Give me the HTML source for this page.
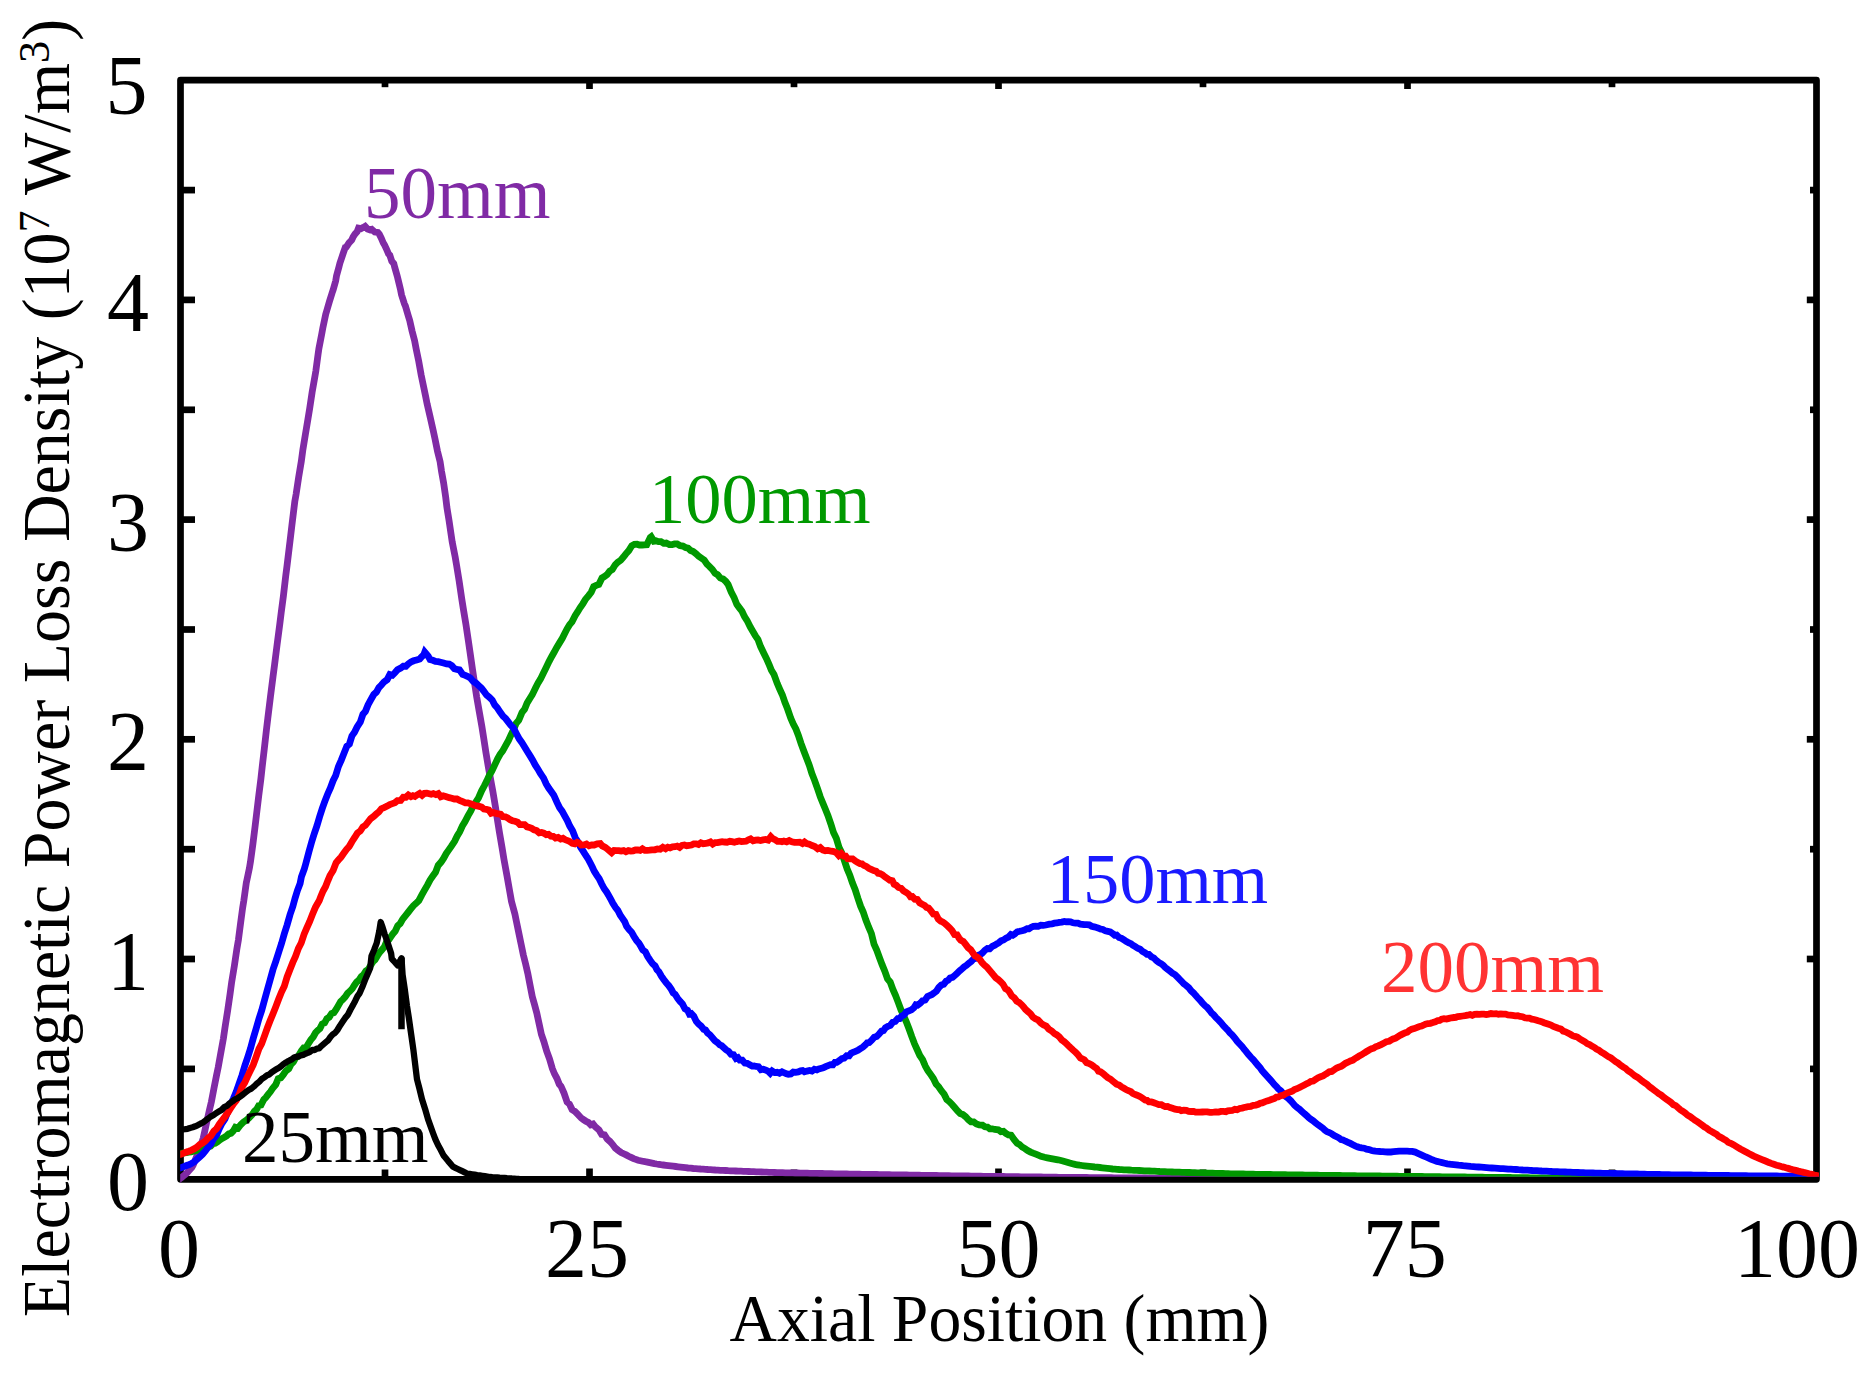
<!DOCTYPE html>
<html lang="en"><head><meta charset="utf-8"><title>Electromagnetic Power Loss Density vs Axial Position</title>
<style>
html,body{margin:0;padding:0;background:#fff;}
body{width:1875px;height:1373px;overflow:hidden;}
svg{display:block;}
text{font-family:"Liberation Serif",serif;}
</style></head><body>
<svg width="1875" height="1373" viewBox="0 0 1875 1373">
<defs><clipPath id="plotclip"><path d="M180.2,60 H1819 V1176.7 H198 V1183 H180.2 Z"/></clipPath></defs>
<rect width="1875" height="1373" fill="#fff"/>

<g stroke="#000" stroke-width="6.7" fill="none" stroke-linecap="butt">
<rect x="180.5" y="80.2" width="1636.0" height="1099.1" stroke-linejoin="round"/>
<line x1="180.5" y1="1068.9" x2="195" y2="1068.9"/>
<line x1="1816.5" y1="1068.9" x2="1810" y2="1068.9"/>
<line x1="180.5" y1="959.0" x2="195" y2="959.0"/>
<line x1="1816.5" y1="959.0" x2="1806.8" y2="959.0"/>
<line x1="180.5" y1="849.2" x2="195" y2="849.2"/>
<line x1="1816.5" y1="849.2" x2="1810" y2="849.2"/>
<line x1="180.5" y1="739.3" x2="195" y2="739.3"/>
<line x1="1816.5" y1="739.3" x2="1806.8" y2="739.3"/>
<line x1="180.5" y1="629.5" x2="195" y2="629.5"/>
<line x1="1816.5" y1="629.5" x2="1810" y2="629.5"/>
<line x1="180.5" y1="519.6" x2="195" y2="519.6"/>
<line x1="1816.5" y1="519.6" x2="1806.8" y2="519.6"/>
<line x1="180.5" y1="409.8" x2="195" y2="409.8"/>
<line x1="1816.5" y1="409.8" x2="1810" y2="409.8"/>
<line x1="180.5" y1="299.9" x2="195" y2="299.9"/>
<line x1="1816.5" y1="299.9" x2="1806.8" y2="299.9"/>
<line x1="180.5" y1="190.1" x2="195" y2="190.1"/>
<line x1="1816.5" y1="190.1" x2="1810" y2="190.1"/>
<line x1="385.0" y1="1179.3" x2="385.0" y2="1169.5"/>
<line x1="385.0" y1="80.2" x2="385.0" y2="87.2"/>
<line x1="589.5" y1="1179.3" x2="589.5" y2="1168.5"/>
<line x1="589.5" y1="80.2" x2="589.5" y2="89"/>
<line x1="794.0" y1="1179.3" x2="794.0" y2="1169.5"/>
<line x1="794.0" y1="80.2" x2="794.0" y2="87.2"/>
<line x1="998.5" y1="1179.3" x2="998.5" y2="1168.5"/>
<line x1="998.5" y1="80.2" x2="998.5" y2="89"/>
<line x1="1203.0" y1="1179.3" x2="1203.0" y2="1169.5"/>
<line x1="1203.0" y1="80.2" x2="1203.0" y2="87.2"/>
<line x1="1407.5" y1="1179.3" x2="1407.5" y2="1168.5"/>
<line x1="1407.5" y1="80.2" x2="1407.5" y2="89"/>
<line x1="1612.0" y1="1179.3" x2="1612.0" y2="1169.5"/>
<line x1="1612.0" y1="80.2" x2="1612.0" y2="87.2"/>
</g>
<g fill="none" stroke-width="6.8" stroke-linejoin="miter" stroke-miterlimit="2" stroke-linecap="butt" clip-path="url(#plotclip)">
<polyline stroke="#802aa5" points="176.5,1181.3 177.0,1180.9 180.0,1178.6 181.2,1177.7 183.2,1176.1 185.3,1174.5 186.8,1173.1 189.3,1170.3 191.8,1167.6 193.2,1165.1 195.3,1159.8 197.4,1154.6 198.7,1150.9 200.9,1145.0 203.2,1138.3 204.7,1131.6 207.2,1119.9 209.8,1108.5 211.4,1101.7 214.0,1088.1 216.6,1075.0 218.2,1067.4 220.8,1052.8 223.4,1038.5 225.0,1027.4 227.6,1011.0 230.1,993.8 231.7,981.9 234.3,966.2 236.9,948.8 238.4,940.0 240.6,923.0 242.7,907.4 243.8,900.8 246.3,882.9 247.1,879.1 249.4,868.2 250.5,861.6 252.8,844.7 255.0,827.1 256.4,815.4 258.7,796.1 260.9,778.7 262.2,766.8 264.3,748.9 266.4,730.1 267.8,718.4 270.4,697.1 273.0,676.8 274.6,664.5 277.2,643.8 279.7,624.8 281.2,612.7 283.4,596.0 285.7,576.2 287.0,566.0 290.7,535.3 291.8,526.1 294.8,501.5 296.1,494.3 298.7,477.0 301.3,461.4 302.9,449.6 305.5,433.8 308.0,418.7 309.6,409.0 312.1,392.4 314.7,377.7 315.8,371.2 318.1,354.1 318.9,348.5 321.8,333.7 322.8,328.1 325.7,314.3 327.0,309.9 329.5,301.3 332.0,293.2 333.2,289.7 335.7,280.8 336.5,275.9 338.9,267.1 339.9,263.1 343.6,252.2 344.4,249.9 345.3,247.4 346.3,247.0 349.0,242.8 351.7,240.0 353.1,237.0 355.1,233.9 357.1,231.7 358.5,228.1 361.0,228.6 363.5,227.3 365.1,226.3 367.6,229.1 370.0,229.9 371.7,229.4 374.8,232.0 377.8,232.4 379.3,234.2 381.3,238.2 383.3,243.0 384.5,244.8 386.5,249.2 388.6,254.0 389.8,255.1 391.8,261.2 393.8,263.6 394.8,267.5 397.3,276.3 398.1,279.6 400.6,290.0 401.5,294.7 404.4,303.8 405.4,306.0 408.4,316.2 409.7,320.4 412.1,331.1 414.6,340.7 416.2,349.1 418.7,361.1 421.2,375.2 422.5,381.4 425.6,396.3 427.1,403.8 430.1,416.7 433.2,430.4 435.0,438.9 437.5,451.2 440.1,461.7 441.5,471.1 443.6,482.8 445.7,497.3 446.9,507.4 449.0,520.3 451.1,534.5 452.2,541.9 455.2,557.2 456.5,564.8 459.1,580.7 461.7,598.4 463.3,608.6 465.9,624.2 468.4,640.9 470.0,651.9 472.5,669.5 475.1,686.5 476.7,697.0 479.3,711.8 481.9,726.6 483.5,736.7 486.0,753.1 488.6,768.4 490.2,777.2 492.8,791.1 495.3,806.0 496.9,816.6 499.5,832.8 502.1,847.8 503.9,859.0 506.9,875.4 510.0,893.0 511.5,901.4 514.9,914.1 516.5,921.9 518.8,933.0 521.0,943.6 523.3,954.8 525.5,963.5 527.8,973.4 530.0,984.8 532.3,996.6 534.5,1004.5 536.8,1013.1 539.1,1023.8 541.4,1034.4 543.8,1041.3 546.7,1051.2 549.5,1058.8 552.4,1068.7 554.5,1073.9 556.9,1078.3 559.2,1084.1 561.0,1086.2 564.0,1093.1 567.1,1102.0 569.4,1104.0 572.1,1109.6 574.9,1111.4 577.6,1114.2 581.2,1118.0 583.5,1119.6 585.9,1121.2 588.3,1122.4 590.7,1124.8 593.1,1124.0 595.4,1126.8 599.0,1129.9 601.7,1134.4 604.5,1134.9 607.2,1139.1 609.8,1141.3 612.5,1144.3 615.3,1148.0 618.0,1150.2 621.2,1152.5 623.7,1153.7 626.2,1154.9 628.6,1156.2 631.1,1157.4 633.6,1158.6 635.8,1159.4 638.1,1160.2 640.4,1160.7 642.7,1161.2 645.1,1161.7 647.4,1162.1 649.8,1162.6 652.1,1163.1 654.4,1163.6 656.6,1164.0 658.7,1164.3 660.9,1164.7 663.4,1165.0 665.8,1165.3 668.3,1165.6 670.7,1165.9 673.2,1166.2 675.7,1166.5 678.1,1166.8 680.6,1167.1 683.0,1167.4 685.5,1167.7 688.1,1168.0 690.7,1168.2 693.3,1168.5 695.7,1168.6 698.2,1168.8 700.6,1169.0 703.1,1169.1 705.5,1169.3 708.0,1169.5 710.5,1169.6 712.9,1169.8 715.4,1170.0 717.8,1170.1 720.4,1170.3 723.0,1170.4 725.6,1170.5 728.2,1170.7 730.7,1170.8 733.3,1170.9 735.8,1171.0 738.4,1171.1 741.0,1171.2 743.5,1171.3 746.1,1171.4 748.7,1171.5 751.2,1171.6 753.8,1171.7 756.3,1171.8 758.9,1171.9 761.5,1172.0 764.0,1172.1 766.6,1172.2 769.1,1172.3 771.8,1172.4 774.5,1172.5 777.2,1172.6 779.9,1172.6 782.6,1172.7 785.3,1172.8 787.8,1172.8 790.2,1172.9 792.7,1172.9 795.1,1173.0 797.6,1173.0 800.1,1173.1 802.5,1173.1 805.0,1173.2 807.4,1173.2 809.9,1173.3 812.4,1173.3 814.8,1173.4 817.3,1173.4 819.7,1173.5 822.2,1173.5 824.7,1173.6 827.1,1173.6 829.6,1173.7 832.0,1173.7 834.5,1173.8 837.0,1173.8 839.4,1173.9 841.9,1173.9 844.3,1174.0 846.8,1174.0 849.3,1174.1 851.8,1174.1 854.3,1174.1 856.9,1174.2 859.4,1174.2 861.9,1174.3 864.4,1174.3 866.9,1174.4 869.4,1174.4 871.9,1174.5 874.4,1174.5 876.9,1174.5 879.4,1174.6 881.8,1174.6 884.3,1174.7 886.8,1174.7 889.3,1174.7 891.8,1174.8 894.3,1174.8 896.7,1174.9 899.2,1174.9 901.7,1175.0 904.2,1175.0 906.7,1175.0 909.2,1175.1 911.6,1175.1 914.1,1175.2 916.6,1175.2 919.1,1175.2 921.6,1175.3 924.1,1175.3 926.5,1175.4 929.0,1175.4 931.5,1175.5 934.0,1175.5 936.5,1175.5 939.0,1175.6 941.4,1175.6 943.9,1175.7 946.4,1175.7 948.9,1175.7 951.4,1175.8 953.8,1175.8 956.2,1175.9 958.7,1175.9 961.1,1175.9 963.6,1176.0 966.0,1176.0 968.5,1176.0 970.9,1176.1 973.3,1176.1 975.8,1176.2 978.3,1176.2 980.8,1176.2 983.3,1176.3 985.8,1176.3 988.3,1176.3 990.8,1176.4 993.3,1176.4 995.8,1176.4 998.4,1176.5 1000.9,1176.5 1003.4,1176.5 1005.9,1176.6 1008.4,1176.6 1010.9,1176.6 1013.4,1176.7 1015.9,1176.7 1018.4,1176.7 1020.9,1176.8 1023.4,1176.8 1025.9,1176.8 1028.5,1176.9 1031.0,1176.9 1033.5,1176.9 1036.0,1177.0 1038.5,1177.0 1041.0,1177.0 1043.5,1177.1 1046.0,1177.1 1048.5,1177.1 1051.1,1177.2 1053.7,1177.2 1056.2,1177.2 1058.8,1177.3 1061.4,1177.3 1063.9,1177.3 1066.5,1177.3 1069.1,1177.4 1071.7,1177.4 1074.2,1177.4 1076.8,1177.4 1079.3,1177.5 1081.7,1177.5 1084.2,1177.5 1086.7,1177.5 1089.2,1177.6 1091.6,1177.6 1094.1,1177.6 1096.6,1177.6 1099.1,1177.6 1101.5,1177.7 1104.0,1177.7 1106.5,1177.7 1109.0,1177.7 1111.4,1177.7 1113.9,1177.8 1116.4,1177.8 1118.9,1177.8 1121.3,1177.8 1123.8,1177.8 1126.3,1177.9 1128.8,1177.9 1131.2,1177.9 1133.7,1177.9 1136.2,1178.0 1138.7,1178.0 1141.1,1178.0 1143.6,1178.0 1146.1,1178.0 1148.6,1178.1 1151.0,1178.1 1153.5,1178.1 1156.0,1178.1 1158.5,1178.1 1160.9,1178.2 1163.4,1178.2 1165.9,1178.2 1168.4,1178.2 1170.8,1178.2 1173.3,1178.3 1175.8,1178.3 1178.3,1178.3 1180.7,1178.3 1183.2,1178.4 1185.7,1178.4 1188.2,1178.4 1190.8,1178.4 1193.3,1178.4 1195.8,1178.4 1198.3,1178.4 1200.9,1178.4 1203.4,1178.4 1205.9,1178.4 1208.4,1178.4 1210.9,1178.4 1213.5,1178.4 1216.0,1178.4 1218.5,1178.4 1221.0,1178.5 1223.5,1178.5 1226.1,1178.5 1228.6,1178.5 1231.1,1178.5 1233.6,1178.5 1236.2,1178.5 1238.7,1178.5 1241.2,1178.5 1243.7,1178.5 1246.2,1178.5 1248.8,1178.5 1251.3,1178.5 1253.8,1178.5 1256.3,1178.5 1258.8,1178.6 1261.4,1178.6 1263.9,1178.6 1266.4,1178.6 1268.9,1178.6 1271.5,1178.6 1274.0,1178.6 1276.5,1178.6 1279.0,1178.6 1281.5,1178.6 1284.0,1178.6 1286.5,1178.6 1289.0,1178.6 1291.5,1178.6 1294.0,1178.6 1296.5,1178.6 1299.0,1178.6 1301.5,1178.6 1304.0,1178.6 1306.6,1178.6 1309.1,1178.6 1311.6,1178.6 1314.1,1178.6 1316.6,1178.7 1319.1,1178.7 1321.6,1178.7 1324.1,1178.7 1326.6,1178.7 1329.1,1178.7 1331.6,1178.7 1334.1,1178.7 1336.6,1178.7 1339.1,1178.7 1341.6,1178.7 1344.1,1178.7 1346.6,1178.7 1349.1,1178.7 1351.7,1178.7 1354.2,1178.7 1356.7,1178.7 1359.2,1178.7 1361.7,1178.7 1364.2,1178.7 1366.7,1178.7 1369.2,1178.7 1371.7,1178.7 1374.2,1178.7 1376.7,1178.7 1379.2,1178.7 1381.7,1178.7 1384.2,1178.7 1386.7,1178.7 1389.2,1178.7 1391.7,1178.7 1394.2,1178.8 1396.8,1178.8 1399.3,1178.8 1401.8,1178.8 1404.3,1178.8 1406.8,1178.8 1409.3,1178.8 1411.8,1178.8 1414.3,1178.8 1416.8,1178.8 1419.3,1178.8 1421.8,1178.8 1424.3,1178.8 1426.8,1178.8 1429.3,1178.8 1431.8,1178.8 1434.3,1178.8 1436.8,1178.8 1439.3,1178.8 1441.9,1178.8 1444.4,1178.8 1446.9,1178.8 1449.4,1178.8 1451.9,1178.8 1454.4,1178.8 1456.9,1178.8 1459.4,1178.8 1461.9,1178.8 1464.4,1178.8 1466.9,1178.8 1469.4,1178.8 1471.9,1178.9 1474.4,1178.9 1476.9,1178.9 1479.4,1178.9 1481.9,1178.9 1484.4,1178.9 1487.0,1178.9 1489.5,1178.9 1492.0,1178.9 1494.5,1178.9 1497.0,1178.9 1499.5,1178.9 1502.0,1178.9 1504.5,1178.9 1507.0,1178.9 1509.5,1178.9 1512.0,1178.9 1514.5,1178.9 1517.0,1178.9 1519.5,1178.9 1522.0,1178.9 1524.5,1178.9 1527.0,1178.9 1529.5,1178.9 1532.1,1178.9 1534.6,1178.9 1537.1,1178.9 1539.6,1178.9 1542.1,1178.9 1544.6,1178.9 1547.1,1179.0 1549.6,1179.0 1552.1,1179.0 1554.6,1179.0 1557.1,1179.0 1559.6,1179.0 1562.1,1179.0 1564.6,1179.0 1567.1,1179.0 1569.6,1179.0 1572.1,1179.0 1574.6,1179.0 1577.2,1179.0 1579.7,1179.0 1582.2,1179.0 1584.7,1179.0 1587.2,1179.0 1589.7,1179.0 1592.2,1179.0 1594.7,1179.0 1597.2,1179.0 1599.7,1179.0 1602.2,1179.0 1604.7,1179.0 1607.2,1179.0 1609.7,1179.0 1612.2,1179.0 1614.7,1179.0 1617.2,1179.0 1619.7,1179.0 1622.3,1179.0 1624.8,1179.1 1627.3,1179.1 1629.8,1179.1 1632.3,1179.1 1634.8,1179.1 1637.3,1179.1 1639.8,1179.1 1642.3,1179.1 1644.8,1179.1 1647.3,1179.1 1649.8,1179.1 1652.3,1179.1 1654.8,1179.1 1657.3,1179.1 1659.8,1179.1 1662.3,1179.1 1664.8,1179.1 1667.4,1179.1 1669.9,1179.1 1672.4,1179.1 1674.9,1179.1 1677.4,1179.1 1679.9,1179.1 1682.4,1179.1 1684.9,1179.1 1687.4,1179.1 1689.9,1179.1 1692.4,1179.1 1694.9,1179.1 1697.4,1179.1 1699.9,1179.1 1702.4,1179.2 1704.9,1179.2 1707.4,1179.2 1709.9,1179.2 1712.5,1179.2 1715.0,1179.2 1717.5,1179.2 1720.0,1179.2 1722.5,1179.2 1725.0,1179.2 1727.5,1179.2 1730.0,1179.2 1732.5,1179.2 1735.0,1179.2 1737.5,1179.2 1740.0,1179.2 1742.5,1179.2 1745.0,1179.2 1747.5,1179.2 1749.9,1179.2 1752.4,1179.2 1754.8,1179.2 1757.3,1179.2 1759.8,1179.2 1762.2,1179.2 1764.7,1179.2 1767.2,1179.2 1769.6,1179.2 1772.1,1179.2 1774.6,1179.2 1777.0,1179.2 1779.5,1179.3 1782.0,1179.3 1784.4,1179.3 1786.9,1179.3 1789.4,1179.3 1791.8,1179.3 1794.3,1179.3 1796.8,1179.3 1799.2,1179.3 1801.7,1179.3 1804.2,1179.3 1806.6,1179.3 1809.1,1179.3 1811.6,1179.3 1814.0,1179.3 1816.5,1179.3"/>
<polyline stroke="#009900" points="176.5,1154.1 177.0,1154.1 180.0,1153.6 181.6,1153.3 184.0,1152.9 186.5,1152.6 188.9,1152.2 191.1,1151.8 193.4,1151.3 195.6,1150.7 197.9,1150.2 200.9,1150.9 203.4,1147.9 205.8,1147.7 208.3,1146.6 210.7,1146.2 213.2,1143.7 215.2,1143.3 217.3,1142.0 219.6,1140.1 221.9,1138.7 224.2,1137.3 226.5,1135.9 228.8,1133.9 231.1,1133.2 233.3,1130.9 235.4,1127.3 238.1,1128.1 240.7,1124.7 243.4,1122.1 246.0,1120.5 248.7,1118.2 252.2,1114.6 254.4,1111.3 256.6,1109.4 258.8,1105.5 261.0,1105.0 263.8,1099.5 266.0,1097.3 268.2,1094.4 270.5,1091.6 272.7,1088.2 275.7,1084.8 278.2,1078.7 280.8,1077.8 283.3,1074.6 285.8,1071.1 288.8,1068.7 291.1,1064.2 293.4,1062.0 295.6,1057.8 297.9,1056.7 301.5,1050.7 303.8,1047.8 306.2,1047.5 308.5,1043.4 310.8,1039.8 313.2,1037.0 315.5,1032.8 317.7,1030.4 319.9,1028.6 322.2,1024.0 324.6,1022.9 326.9,1018.7 329.2,1017.2 331.6,1013.5 333.9,1012.7 336.1,1009.4 338.3,1005.6 340.6,1001.6 342.9,999.4 345.2,996.9 347.6,993.3 349.9,991.2 352.2,988.7 354.4,985.2 356.6,982.1 358.9,980.2 361.3,976.6 363.6,974.6 365.9,971.0 368.3,969.5 370.6,965.4 372.8,961.9 375.0,959.8 377.3,956.0 379.6,952.4 382.0,949.7 384.3,947.0 386.6,941.6 388.9,939.7 390.8,936.9 392.7,934.1 395.2,931.1 397.7,925.8 400.2,923.5 402.7,919.1 405.9,915.1 408.4,912.0 410.8,908.9 413.3,905.8 415.8,903.6 418.8,900.6 421.7,895.1 424.5,890.1 427.4,885.1 430.1,879.9 432.8,876.0 435.5,872.4 438.2,865.4 441.1,862.1 443.7,858.2 446.2,853.6 448.8,849.9 451.4,846.2 454.6,841.3 457.2,836.0 459.8,831.7 462.3,826.1 464.9,821.8 468.1,815.6 470.7,811.1 473.2,805.9 475.8,802.1 478.4,798.1 481.6,790.8 484.2,786.0 486.7,781.1 489.2,775.5 491.8,771.1 495.0,764.4 497.6,758.8 500.1,754.3 502.7,750.9 505.3,746.2 508.5,740.4 511.1,734.7 513.6,729.6 516.2,723.2 518.8,720.2 522.0,712.4 524.6,709.2 527.1,703.0 529.7,698.7 532.3,694.7 535.5,688.1 538.1,682.8 540.6,678.9 543.2,673.6 545.8,668.3 549.0,661.6 551.6,656.7 554.1,652.3 556.6,647.6 559.2,643.4 562.3,638.3 564.7,633.5 567.1,628.8 569.6,624.7 572.0,621.8 575.1,615.7 577.7,611.7 580.2,607.6 582.8,603.8 585.4,599.4 588.6,595.6 591.2,592.2 593.7,586.6 596.2,585.4 598.8,584.5 602.0,578.0 604.6,576.4 607.1,574.5 609.7,571.2 612.3,569.6 615.2,564.8 617.9,562.1 620.7,560.2 623.4,557.1 625.7,554.1 628.8,550.6 631.8,545.8 634.4,544.3 637.0,544.2 639.5,545.0 642.1,545.0 644.7,544.8 646.8,544.7 650.3,537.4 651.2,536.7 653.9,541.2 655.9,540.8 658.5,541.7 661.0,541.7 663.6,543.3 666.2,543.0 669.4,544.6 672.0,544.7 674.5,543.9 677.1,543.9 679.7,545.5 682.9,546.1 685.5,547.5 688.0,548.1 690.6,550.5 693.2,551.5 696.1,553.8 698.8,556.4 701.6,558.3 704.3,560.1 706.9,564.1 709.6,566.6 712.3,569.4 715.0,573.2 717.6,574.7 720.3,577.9 723.1,579.0 725.8,581.4 728.1,584.5 731.2,592.0 734.2,597.8 736.8,604.4 739.4,607.9 742.0,611.3 744.5,616.6 747.1,620.6 750.3,627.0 752.9,631.4 755.5,636.0 758.0,639.5 760.6,646.6 763.8,653.2 766.4,658.4 768.9,664.0 771.4,670.3 774.0,674.6 777.2,683.3 779.8,689.3 782.4,695.0 784.9,702.4 787.5,708.8 790.7,718.0 793.3,724.1 795.9,729.0 798.4,735.4 801.0,743.3 804.2,752.0 806.8,758.7 809.4,765.5 811.9,773.5 814.5,780.1 817.7,789.1 820.3,796.9 822.8,803.1 825.3,809.0 827.9,815.4 830.8,823.8 833.5,832.5 836.3,838.3 839.0,847.3 841.6,852.6 844.3,860.5 847.1,868.7 849.8,875.2 852.4,882.9 855.1,889.4 857.9,898.3 860.6,906.2 863.2,912.0 865.9,920.1 868.7,927.2 871.4,933.5 874.0,944.1 876.7,950.1 879.5,957.7 882.2,964.9 884.8,971.2 887.5,978.9 890.2,982.1 892.9,989.4 895.5,995.4 898.2,1002.4 901.0,1009.9 903.7,1015.8 906.3,1021.8 909.0,1028.8 911.8,1036.7 914.5,1043.8 917.1,1049.5 919.8,1055.5 922.6,1059.6 925.3,1066.1 927.9,1070.6 930.6,1074.4 933.4,1078.5 936.1,1084.0 938.7,1086.8 941.4,1090.8 944.1,1094.2 946.8,1099.6 949.4,1101.7 952.1,1104.5 954.9,1107.8 957.6,1110.9 960.2,1113.5 962.9,1114.5 965.7,1116.8 968.4,1119.8 971.0,1121.8 973.7,1121.9 976.5,1123.9 979.2,1124.9 982.4,1125.1 984.9,1126.8 987.4,1127.0 989.8,1128.8 992.3,1128.8 994.8,1129.5 998.3,1129.8 1000.9,1131.6 1003.4,1131.3 1005.9,1133.4 1008.5,1135.0 1011.1,1135.2 1014.2,1139.6 1017.2,1143.2 1019.5,1144.4 1022.2,1147.1 1025.0,1148.6 1027.7,1150.5 1030.6,1152.1 1033.2,1153.2 1035.8,1154.2 1038.3,1155.2 1040.9,1156.3 1044.6,1157.3 1047.3,1157.8 1049.9,1158.3 1052.6,1158.8 1055.2,1159.3 1057.9,1159.8 1060.0,1160.3 1062.0,1160.8 1064.6,1161.5 1067.2,1162.2 1069.8,1163.0 1072.4,1163.7 1075.0,1164.4 1077.3,1164.8 1079.6,1165.2 1081.8,1165.5 1084.4,1165.8 1087.0,1166.1 1089.5,1166.4 1092.1,1166.7 1094.6,1167.0 1097.2,1167.2 1099.8,1167.5 1102.3,1167.8 1104.9,1168.1 1107.4,1168.4 1110.0,1168.7 1112.6,1169.0 1114.8,1169.1 1117.1,1169.3 1119.3,1169.5 1121.6,1169.6 1123.9,1169.8 1126.4,1169.9 1129.0,1170.0 1131.5,1170.2 1134.1,1170.3 1136.7,1170.4 1139.2,1170.5 1141.8,1170.6 1144.3,1170.8 1146.9,1170.9 1149.5,1171.0 1152.0,1171.1 1154.6,1171.2 1157.2,1171.3 1159.7,1171.5 1162.3,1171.6 1164.8,1171.7 1167.3,1171.8 1169.7,1171.9 1172.1,1172.0 1174.5,1172.1 1177.0,1172.1 1179.4,1172.2 1181.9,1172.3 1184.5,1172.4 1187.1,1172.5 1189.6,1172.5 1192.2,1172.6 1194.8,1172.7 1197.3,1172.8 1199.9,1172.8 1202.4,1172.9 1205.0,1173.0 1207.6,1173.1 1210.1,1173.2 1212.7,1173.2 1215.2,1173.3 1217.8,1173.4 1220.4,1173.5 1222.9,1173.5 1225.5,1173.6 1228.1,1173.7 1230.6,1173.8 1233.2,1173.8 1235.7,1173.9 1238.2,1173.9 1240.8,1174.0 1243.3,1174.0 1245.9,1174.1 1248.4,1174.2 1250.9,1174.2 1253.3,1174.2 1255.8,1174.3 1258.2,1174.3 1260.7,1174.4 1263.1,1174.4 1265.6,1174.4 1268.0,1174.5 1270.5,1174.5 1273.0,1174.6 1275.4,1174.6 1277.9,1174.6 1280.3,1174.7 1282.8,1174.7 1285.2,1174.7 1287.7,1174.8 1290.2,1174.8 1292.6,1174.9 1295.1,1174.9 1297.5,1174.9 1300.0,1175.0 1302.4,1175.0 1304.9,1175.1 1307.3,1175.1 1309.8,1175.1 1312.3,1175.2 1314.8,1175.2 1317.4,1175.2 1319.9,1175.3 1322.4,1175.3 1324.9,1175.4 1327.4,1175.4 1329.9,1175.4 1332.4,1175.5 1334.9,1175.5 1337.4,1175.5 1339.9,1175.5 1342.4,1175.6 1344.9,1175.6 1347.4,1175.6 1349.8,1175.7 1352.3,1175.7 1354.8,1175.7 1357.3,1175.8 1359.8,1175.8 1362.3,1175.8 1364.8,1175.8 1367.2,1175.9 1369.7,1175.9 1372.2,1175.9 1374.7,1176.0 1377.2,1176.0 1379.7,1176.0 1382.1,1176.1 1384.6,1176.1 1387.1,1176.1 1389.6,1176.1 1392.1,1176.2 1394.6,1176.2 1397.1,1176.2 1399.5,1176.3 1402.0,1176.3 1404.5,1176.3 1407.0,1176.4 1409.5,1176.4 1412.0,1176.4 1414.5,1176.4 1417.0,1176.5 1419.5,1176.5 1422.0,1176.5 1424.5,1176.6 1427.0,1176.6 1429.5,1176.6 1432.1,1176.7 1434.6,1176.7 1437.1,1176.7 1439.6,1176.7 1442.1,1176.8 1444.6,1176.8 1447.1,1176.8 1449.7,1176.9 1452.2,1176.9 1454.7,1176.9 1457.2,1176.9 1459.7,1177.0 1462.3,1177.0 1464.8,1177.0 1467.3,1177.1 1469.8,1177.1 1472.3,1177.1 1474.8,1177.1 1477.4,1177.2 1479.9,1177.2 1482.4,1177.2 1484.9,1177.3 1487.4,1177.3 1490.0,1177.3 1492.5,1177.3 1495.0,1177.4 1497.5,1177.4 1500.0,1177.4 1502.6,1177.5 1505.1,1177.5 1507.6,1177.5 1510.1,1177.5 1512.6,1177.6 1515.1,1177.6 1517.7,1177.6 1520.2,1177.7 1522.7,1177.7 1525.2,1177.7 1527.7,1177.7 1530.3,1177.8 1532.8,1177.8 1535.3,1177.8 1537.7,1177.8 1540.2,1177.9 1542.7,1177.9 1545.1,1177.9 1547.6,1177.9 1550.0,1177.9 1552.5,1178.0 1554.9,1178.0 1557.4,1178.0 1559.9,1178.0 1562.3,1178.0 1564.8,1178.0 1567.2,1178.1 1569.7,1178.1 1572.2,1178.1 1574.6,1178.1 1577.1,1178.1 1579.5,1178.1 1582.0,1178.2 1584.5,1178.2 1587.0,1178.2 1589.5,1178.2 1592.0,1178.2 1594.5,1178.2 1597.0,1178.2 1599.5,1178.2 1602.0,1178.3 1604.5,1178.3 1607.0,1178.3 1609.5,1178.3 1612.0,1178.3 1614.5,1178.3 1617.0,1178.3 1619.5,1178.3 1622.0,1178.4 1624.5,1178.4 1627.0,1178.4 1629.5,1178.4 1632.0,1178.4 1634.5,1178.4 1637.0,1178.4 1639.5,1178.4 1642.0,1178.4 1644.5,1178.5 1647.0,1178.5 1649.5,1178.5 1652.0,1178.5 1654.5,1178.5 1657.0,1178.5 1659.5,1178.5 1662.0,1178.5 1664.5,1178.6 1667.0,1178.6 1669.5,1178.6 1672.0,1178.6 1674.5,1178.6 1677.0,1178.6 1679.5,1178.6 1682.0,1178.6 1684.5,1178.7 1687.0,1178.7 1689.5,1178.7 1692.0,1178.7 1694.5,1178.7 1697.0,1178.7 1699.5,1178.7 1702.0,1178.7 1704.5,1178.8 1707.0,1178.8 1709.5,1178.8 1712.0,1178.8 1714.5,1178.8 1717.0,1178.8 1719.5,1178.8 1722.0,1178.8 1724.5,1178.9 1727.0,1178.9 1729.5,1178.9 1732.0,1178.9 1734.5,1178.9 1737.0,1178.9 1739.5,1178.9 1742.0,1178.9 1744.5,1178.9 1747.0,1179.0 1749.5,1179.0 1752.0,1179.0 1754.5,1179.0 1757.0,1179.0 1759.5,1179.0 1762.0,1179.0 1764.5,1179.0 1767.0,1179.1 1769.5,1179.1 1772.0,1179.1 1774.5,1179.1 1777.0,1179.1 1779.5,1179.1 1782.0,1179.1 1784.5,1179.1 1787.0,1179.2 1789.4,1179.2 1791.9,1179.2 1794.4,1179.2 1796.8,1179.2 1799.3,1179.2 1801.7,1179.2 1804.2,1179.2 1806.7,1179.3 1809.1,1179.3 1811.6,1179.3 1814.0,1179.3 1816.5,1179.3"/>
<polyline stroke="#0000ff" points="176.5,1169.3 177.0,1169.1 180.0,1168.0 182.0,1167.3 184.3,1166.4 186.6,1165.5 188.8,1164.7 191.1,1163.8 194.0,1162.1 196.8,1159.5 199.7,1156.9 202.5,1154.3 205.2,1151.2 208.1,1147.3 210.9,1144.1 213.8,1138.5 216.5,1135.3 219.3,1128.7 222.2,1123.0 225.0,1118.8 227.8,1111.7 230.6,1104.7 233.5,1098.3 236.3,1091.7 239.1,1083.6 241.9,1075.5 244.8,1065.8 247.6,1057.6 250.4,1048.9 253.2,1038.5 256.1,1028.7 258.9,1018.9 261.7,1010.4 264.5,1000.1 267.4,989.7 270.2,979.7 273.0,969.5 275.8,961.3 278.7,952.3 281.5,943.6 284.3,933.8 287.1,924.9 290.0,914.7 292.8,906.6 295.0,898.4 297.5,890.3 300.1,883.5 301.4,876.9 304.3,869.0 305.8,863.6 308.9,851.9 311.9,841.2 314.2,833.8 316.9,825.9 319.6,816.8 322.3,808.4 324.9,801.2 327.6,794.2 330.4,788.0 333.1,780.7 335.7,775.5 338.4,766.6 341.2,760.3 343.9,753.6 346.8,746.3 349.4,744.0 351.9,735.9 354.5,732.2 357.1,727.0 360.3,722.0 362.9,714.3 365.4,711.4 368.0,705.0 370.6,700.2 373.8,694.5 376.4,692.1 378.9,687.6 381.4,685.0 384.0,681.9 387.2,679.6 389.8,674.6 392.4,675.3 394.9,672.8 397.5,669.8 400.7,668.1 403.3,666.1 405.9,666.2 408.4,663.8 411.0,662.0 413.6,660.8 416.6,659.9 419.7,659.0 421.1,657.4 423.8,654.8 424.8,652.1 428.2,656.1 430.1,659.6 432.8,660.3 435.5,661.4 438.2,661.6 440.5,662.2 443.6,663.0 446.6,663.9 449.2,664.1 451.8,665.7 454.4,668.8 456.9,669.4 459.5,669.8 462.7,674.4 465.3,675.4 467.9,676.5 470.4,678.1 473.0,681.2 476.2,683.3 478.8,685.7 481.4,688.1 483.9,691.3 486.5,695.0 489.7,697.6 492.3,700.2 494.8,705.0 497.3,707.9 499.9,711.8 503.1,716.2 505.7,718.6 508.2,721.9 510.8,725.3 513.4,727.9 516.6,734.0 519.2,738.9 521.8,742.4 524.3,746.4 526.9,750.8 530.1,755.9 532.7,760.2 535.2,764.9 537.8,768.9 540.4,773.5 543.6,778.2 546.2,783.9 548.7,788.1 551.2,791.6 553.8,795.1 557.0,802.4 559.6,807.8 562.1,811.1 564.7,815.9 567.3,820.5 569.8,826.1 572.6,830.7 575.3,837.8 578.1,842.1 580.6,847.2 583.0,850.9 585.5,855.0 587.9,858.5 590.4,863.3 592.3,867.0 594.2,871.1 596.7,875.1 599.2,878.7 601.6,883.8 604.1,888.5 606.6,892.0 608.5,895.1 610.4,898.5 612.9,903.4 615.4,907.3 617.8,910.3 620.3,915.3 622.8,918.8 624.7,921.7 626.6,926.2 629.1,929.6 631.6,932.2 634.0,936.5 636.5,940.4 639.0,943.3 640.9,946.5 642.8,949.9 645.3,951.7 647.7,956.6 650.2,960.4 652.6,963.7 655.1,965.9 657.0,969.8 658.9,971.7 661.4,976.2 663.9,979.7 666.3,982.9 668.8,985.7 671.3,989.3 673.2,992.9 675.1,994.3 677.6,998.3 680.1,1001.4 682.5,1003.9 685.0,1008.9 687.5,1010.3 689.4,1014.1 691.3,1013.6 693.8,1016.3 696.3,1021.4 698.7,1024.0 701.2,1026.2 703.7,1029.3 705.6,1030.0 707.5,1032.9 710.0,1034.9 712.4,1037.7 714.9,1040.7 717.3,1042.4 719.8,1044.9 721.7,1045.7 723.6,1047.5 726.1,1049.8 728.6,1051.3 731.0,1054.3 733.5,1054.6 736.0,1058.4 737.9,1057.6 739.8,1060.2 742.3,1060.2 744.8,1063.1 747.2,1063.3 749.7,1064.7 752.2,1066.1 754.1,1066.0 756.0,1066.5 758.5,1066.7 760.9,1069.7 763.4,1069.2 765.8,1070.1 768.3,1071.3 770.2,1073.2 772.1,1071.0 774.6,1072.6 777.1,1072.3 779.5,1073.2 782.0,1071.8 784.5,1073.0 786.4,1073.8 788.3,1074.3 790.8,1074.0 793.3,1072.0 795.7,1072.3 798.2,1071.9 800.7,1070.8 802.6,1070.5 804.5,1071.8 807.0,1071.1 809.5,1070.5 811.9,1071.1 814.4,1069.2 816.9,1069.9 818.8,1069.0 820.7,1068.5 823.2,1067.8 825.6,1066.6 828.1,1065.6 830.5,1064.6 833.0,1064.8 834.9,1062.3 836.8,1062.3 839.3,1060.7 841.8,1058.7 844.2,1058.2 846.7,1055.7 849.2,1055.8 851.1,1053.3 853.0,1052.4 855.5,1051.4 858.0,1050.2 860.4,1048.7 862.9,1047.1 865.4,1044.8 867.3,1042.8 869.2,1042.5 871.7,1040.2 874.2,1037.3 876.6,1036.6 879.1,1034.0 881.6,1031.1 883.5,1030.6 885.4,1027.8 887.9,1026.3 890.3,1025.4 892.8,1022.1 895.2,1021.4 897.7,1018.6 899.6,1018.6 901.5,1016.1 904.0,1014.9 906.5,1011.9 908.9,1010.9 911.4,1009.9 913.9,1007.8 915.8,1004.8 917.7,1005.2 920.2,1003.3 922.7,1000.6 925.1,1000.0 927.6,996.5 930.1,995.3 932.0,994.5 933.9,993.1 936.4,991.1 938.8,987.5 941.3,985.0 943.7,984.3 946.2,981.1 948.1,980.3 950.0,978.0 952.5,977.4 955.0,975.2 957.4,973.0 959.9,970.6 962.4,968.5 964.3,966.7 966.2,965.5 968.7,963.4 971.2,961.4 973.6,958.9 976.1,958.2 978.6,955.2 980.5,954.5 982.4,953.0 984.9,950.3 987.4,948.5 989.8,948.7 992.3,946.3 994.8,945.2 996.7,943.9 998.6,942.9 1001.1,940.8 1003.5,940.0 1006.0,938.3 1008.4,937.1 1010.9,934.5 1012.8,935.2 1014.7,934.0 1017.2,931.8 1019.7,931.3 1022.1,930.7 1024.6,930.0 1027.1,928.6 1029.0,928.7 1030.9,927.4 1033.4,926.4 1035.9,926.1 1038.3,926.3 1040.8,925.2 1043.3,925.4 1045.8,925.0 1049.4,924.2 1051.9,924.0 1054.4,923.2 1056.9,923.0 1059.3,922.4 1061.8,922.1 1064.3,921.4 1066.2,921.9 1068.1,921.7 1070.6,921.8 1073.0,922.8 1075.5,923.2 1077.9,923.1 1080.4,924.2 1082.3,924.3 1084.2,924.7 1086.7,924.6 1089.2,924.9 1091.6,926.3 1094.1,926.8 1096.6,927.6 1098.5,928.1 1100.4,929.1 1102.9,929.5 1105.4,930.9 1107.8,931.4 1110.3,931.9 1112.8,933.6 1114.7,935.3 1116.6,935.1 1119.1,937.5 1121.6,938.3 1124.0,939.9 1126.5,941.5 1129.0,942.9 1130.9,943.7 1132.8,945.2 1135.3,946.7 1137.7,948.3 1140.2,949.2 1142.6,951.4 1145.1,952.9 1147.0,954.4 1148.9,954.4 1151.4,956.8 1153.9,958.0 1156.3,960.5 1158.8,962.5 1161.3,963.8 1163.2,965.2 1165.1,967.3 1167.6,969.4 1170.1,971.1 1172.5,973.2 1175.0,974.6 1177.5,977.2 1179.4,979.2 1181.3,981.0 1183.8,983.8 1186.3,985.6 1188.7,987.7 1191.2,990.9 1193.7,993.1 1195.6,995.4 1197.5,997.5 1200.0,1000.1 1202.4,1003.0 1204.9,1005.6 1207.3,1007.5 1209.8,1010.6 1211.7,1013.2 1213.6,1014.7 1216.1,1017.7 1218.6,1020.1 1221.0,1022.7 1223.5,1025.8 1226.0,1028.4 1227.9,1030.2 1229.8,1032.7 1232.3,1035.0 1234.8,1038.0 1237.2,1041.3 1239.7,1044.0 1242.2,1046.6 1244.1,1049.2 1246.0,1051.4 1248.5,1054.6 1250.9,1057.3 1253.4,1059.9 1255.8,1062.7 1258.3,1065.7 1260.2,1067.9 1262.1,1070.6 1264.6,1073.5 1267.1,1076.3 1269.5,1078.9 1272.0,1081.6 1274.5,1084.8 1276.4,1086.6 1278.3,1088.8 1280.8,1090.8 1283.3,1093.6 1285.7,1096.5 1288.2,1098.3 1290.7,1100.7 1292.6,1102.9 1294.5,1105.2 1297.0,1107.4 1299.5,1109.2 1301.9,1111.4 1304.4,1113.7 1306.9,1115.8 1308.8,1117.7 1310.7,1119.2 1313.2,1120.8 1315.6,1122.8 1318.1,1124.8 1320.5,1126.5 1323.0,1128.3 1324.9,1130.1 1326.8,1131.6 1329.3,1132.5 1331.8,1133.9 1334.2,1135.5 1336.7,1136.8 1339.2,1138.1 1341.1,1139.6 1343.0,1140.0 1345.5,1141.2 1348.0,1142.3 1350.4,1143.4 1352.9,1144.7 1355.4,1146.0 1357.3,1146.9 1359.2,1147.4 1361.7,1147.9 1364.2,1148.2 1366.6,1149.2 1369.1,1149.6 1371.6,1150.5 1373.5,1150.8 1375.4,1151.1 1377.9,1151.3 1380.3,1151.5 1382.8,1151.6 1385.2,1151.8 1387.7,1152.0 1390.9,1152.0 1393.6,1151.7 1396.4,1151.4 1399.1,1151.1 1402.0,1151.1 1404.6,1151.2 1407.2,1151.2 1409.7,1151.3 1412.3,1151.4 1415.2,1152.1 1417.9,1153.3 1420.7,1154.6 1423.4,1155.8 1426.0,1157.0 1428.7,1158.1 1431.4,1159.3 1434.1,1160.4 1437.0,1161.4 1439.6,1162.0 1442.2,1162.6 1444.7,1163.2 1447.3,1163.8 1449.4,1164.1 1451.5,1164.5 1453.8,1164.7 1456.2,1164.9 1458.5,1165.2 1460.9,1165.4 1463.2,1165.7 1465.6,1165.9 1467.9,1166.1 1470.7,1166.4 1473.4,1166.6 1476.0,1166.8 1478.7,1167.0 1481.3,1167.2 1483.9,1167.4 1486.5,1167.6 1489.2,1167.8 1491.8,1168.0 1494.9,1168.2 1497.9,1168.4 1500.5,1168.6 1503.1,1168.7 1505.6,1168.9 1508.2,1169.1 1510.8,1169.2 1513.3,1169.4 1515.9,1169.5 1518.5,1169.7 1520.7,1169.8 1522.9,1170.0 1525.1,1170.1 1527.5,1170.2 1529.9,1170.3 1532.3,1170.5 1534.7,1170.6 1537.0,1170.7 1539.4,1170.8 1541.8,1171.0 1544.2,1171.1 1546.6,1171.2 1549.4,1171.3 1552.1,1171.5 1554.9,1171.6 1557.4,1171.7 1560.0,1171.8 1562.6,1171.9 1565.2,1172.0 1567.7,1172.1 1570.3,1172.2 1572.9,1172.3 1575.4,1172.4 1578.0,1172.5 1580.6,1172.6 1583.2,1172.7 1585.7,1172.8 1588.2,1172.9 1590.6,1172.9 1593.0,1173.0 1595.4,1173.1 1597.9,1173.1 1600.3,1173.2 1602.8,1173.3 1605.2,1173.3 1607.7,1173.4 1610.1,1173.4 1612.6,1173.5 1615.1,1173.5 1617.5,1173.6 1620.0,1173.7 1622.4,1173.7 1624.9,1173.8 1627.4,1173.8 1629.8,1173.9 1632.3,1173.9 1634.7,1174.0 1637.2,1174.0 1639.7,1174.1 1642.1,1174.1 1644.6,1174.2 1647.0,1174.3 1649.5,1174.3 1652.0,1174.4 1654.4,1174.4 1656.9,1174.5 1659.3,1174.5 1661.8,1174.6 1664.2,1174.6 1666.6,1174.7 1669.0,1174.7 1671.4,1174.8 1673.7,1174.8 1676.1,1174.8 1678.5,1174.9 1680.9,1174.9 1683.4,1175.0 1685.9,1175.0 1688.4,1175.0 1690.9,1175.0 1693.3,1175.1 1695.8,1175.1 1698.3,1175.1 1700.8,1175.2 1703.3,1175.2 1705.8,1175.2 1708.3,1175.3 1710.8,1175.3 1713.2,1175.3 1715.7,1175.4 1718.2,1175.4 1720.7,1175.4 1723.2,1175.5 1725.7,1175.5 1728.2,1175.5 1730.6,1175.6 1733.1,1175.6 1735.6,1175.6 1738.1,1175.6 1740.6,1175.7 1743.3,1175.7 1746.0,1175.7 1748.7,1175.8 1751.4,1175.8 1754.1,1175.8 1756.8,1175.9 1759.3,1175.9 1761.8,1175.9 1764.3,1175.9 1766.8,1175.9 1769.3,1176.0 1771.9,1176.0 1774.4,1176.0 1776.9,1176.0 1779.4,1176.1 1781.9,1176.1 1784.4,1176.1 1787.0,1176.1 1789.5,1176.2 1792.0,1176.2 1794.5,1176.2 1797.0,1176.2 1799.5,1176.2 1802.3,1176.3 1805.1,1176.3 1807.9,1176.3 1810.5,1176.3 1813.2,1176.3 1815.8,1176.4 1818.4,1176.4 1820.0,1176.4"/>
<polyline stroke="#ff0000" points="176.5,1155.8 177.0,1155.6 180.0,1154.5 182.0,1153.8 184.3,1152.9 186.6,1152.0 188.8,1151.2 191.1,1150.3 194.0,1148.9 196.8,1147.2 199.7,1144.5 202.5,1143.1 205.2,1141.2 208.1,1138.0 210.9,1135.9 213.8,1131.3 216.5,1128.8 219.3,1124.2 222.2,1120.2 225.0,1116.6 227.8,1112.8 230.6,1108.3 233.5,1103.8 236.3,1100.4 239.1,1094.6 241.9,1087.1 244.8,1082.7 247.6,1076.4 250.4,1070.5 253.2,1064.9 256.1,1057.0 258.9,1048.9 261.7,1043.7 264.5,1035.9 267.4,1027.8 270.2,1020.6 273.0,1013.7 275.8,1006.7 278.7,999.0 281.5,992.0 284.3,986.2 287.1,976.9 290.0,969.4 292.8,962.4 295.5,956.5 298.4,948.4 301.2,943.0 304.1,934.2 306.8,927.9 309.6,921.7 312.5,914.3 315.3,907.6 317.0,904.5 319.3,900.5 320.7,896.8 323.1,891.0 325.5,886.7 327.9,880.6 330.0,875.6 333.1,870.5 336.1,862.8 338.4,860.0 341.1,857.0 343.9,853.1 346.6,849.3 349.2,846.4 351.9,841.7 354.7,837.5 357.4,833.1 360.3,831.0 362.9,826.9 365.4,825.3 368.0,822.0 370.6,818.7 373.8,816.3 376.4,813.9 378.9,811.8 381.4,808.7 384.0,807.6 387.2,806.1 389.8,804.5 392.4,803.6 394.9,802.7 397.5,800.6 400.7,800.4 403.3,797.2 405.9,797.3 408.4,795.0 411.0,796.6 412.9,795.7 414.9,796.5 417.3,794.8 419.7,793.4 422.1,795.4 424.4,793.4 426.8,793.2 429.2,793.7 431.3,794.3 433.4,793.6 435.9,794.6 438.3,793.6 440.8,796.7 443.2,795.9 445.7,796.5 449.2,797.7 451.8,798.2 454.4,799.0 456.9,799.0 459.5,800.3 462.7,801.7 465.3,802.9 467.9,802.8 470.4,803.7 473.0,804.7 474.9,805.5 476.9,805.9 479.2,806.4 481.6,807.1 484.0,809.1 486.4,809.4 488.8,810.0 491.1,813.3 493.6,812.5 496.0,813.4 498.3,814.0 500.7,814.2 503.0,816.7 505.4,816.8 507.7,818.0 510.1,819.7 512.4,820.7 515.0,821.3 517.6,822.2 519.9,824.7 522.3,824.7 524.6,824.6 527.0,826.8 529.3,827.4 531.7,828.4 534.0,829.8 536.6,830.6 539.2,832.8 541.5,832.4 543.8,833.2 546.2,834.7 548.5,834.3 550.9,836.2 553.2,836.3 555.5,838.0 558.1,837.4 560.7,839.1 563.0,838.3 565.4,839.8 567.7,840.7 570.1,841.7 572.4,843.4 574.8,843.9 577.1,842.4 579.2,843.2 581.3,845.1 583.9,844.9 586.5,844.0 589.0,845.7 591.6,844.9 594.2,845.0 597.2,843.8 600.3,843.6 602.3,845.9 605.3,847.4 608.4,849.8 611.7,852.6 614.0,850.5 616.4,850.7 618.8,850.6 621.2,851.1 623.6,850.6 625.9,851.8 628.4,850.6 630.8,851.1 633.1,850.8 635.5,850.0 637.8,849.9 640.2,850.4 642.5,848.8 644.9,850.3 647.2,850.3 649.6,850.2 652.0,849.9 654.7,849.8 657.4,848.9 660.2,849.3 662.9,847.3 665.6,848.7 667.9,847.2 670.1,847.9 672.5,846.9 674.9,846.7 677.2,846.1 679.6,847.4 682.0,845.4 684.4,845.0 686.7,845.7 689.0,845.5 691.4,845.0 693.8,843.9 696.2,843.8 698.5,844.5 700.9,842.8 703.3,843.7 705.8,843.5 708.2,842.9 710.5,841.9 712.8,844.0 715.2,842.6 717.5,842.6 719.9,842.1 722.2,841.6 724.5,842.0 727.1,842.2 729.7,841.3 732.0,841.7 734.4,842.3 736.7,841.6 739.1,841.0 741.4,841.6 743.8,841.3 746.1,841.1 748.4,839.8 750.6,838.9 753.1,840.8 755.6,840.2 758.0,839.9 760.5,840.5 763.0,839.9 765.7,839.4 768.2,840.1 770.8,836.7 772.7,838.6 775.1,839.7 777.5,841.3 779.9,841.3 781.9,841.8 783.9,841.1 786.6,841.9 789.2,840.6 791.8,841.8 794.5,842.3 797.1,842.4 799.7,842.3 802.4,843.6 804.5,842.0 806.6,843.5 809.3,844.2 812.1,845.5 814.8,846.5 817.7,848.8 820.3,847.5 822.8,849.9 825.3,850.7 827.9,850.4 831.4,851.2 833.9,851.6 836.4,852.7 838.8,855.5 841.3,853.4 843.8,856.1 845.7,856.1 847.6,858.7 850.1,858.8 852.6,858.9 855.0,860.7 857.5,862.4 860.0,863.6 861.9,863.8 863.8,865.3 866.3,866.4 868.8,868.3 871.2,869.4 873.7,870.6 876.2,871.2 878.1,873.3 880.0,873.5 882.5,874.9 884.9,876.8 887.4,878.5 889.8,880.2 892.3,880.7 894.2,884.3 896.1,885.2 898.6,887.5 901.1,888.2 903.5,890.8 906.0,892.3 908.5,894.1 910.4,896.7 912.3,896.6 914.8,899.2 917.3,899.5 919.7,902.8 922.2,904.2 924.7,905.5 926.6,907.4 928.5,908.0 931.0,910.9 933.4,914.0 935.9,914.4 938.3,919.1 940.8,921.2 942.7,921.9 944.6,923.3 947.1,925.6 949.6,927.9 952.0,930.5 954.5,934.6 957.0,934.8 958.9,937.9 960.8,940.2 963.3,941.5 965.8,944.6 968.2,947.8 970.7,949.7 973.2,953.4 975.1,956.1 977.0,956.9 979.5,959.1 982.0,962.6 984.4,965.1 986.9,967.1 989.4,970.1 991.3,972.3 993.2,974.7 995.7,977.7 998.1,979.5 1000.6,981.7 1003.0,984.2 1005.5,988.7 1007.4,989.6 1009.3,991.7 1011.8,995.9 1014.3,997.8 1016.7,1001.1 1019.2,1002.5 1021.7,1004.8 1023.6,1006.9 1025.5,1009.4 1028.0,1011.6 1030.5,1013.8 1032.9,1017.0 1035.4,1018.8 1037.9,1019.9 1041.0,1023.2 1043.6,1025.0 1046.2,1026.0 1048.8,1029.2 1051.9,1031.1 1054.4,1033.6 1056.9,1034.9 1059.3,1036.9 1061.8,1040.0 1064.3,1041.8 1066.2,1043.4 1068.1,1045.4 1070.6,1047.8 1073.0,1050.0 1075.5,1052.1 1077.9,1054.7 1080.4,1058.0 1082.3,1058.8 1084.2,1059.7 1086.7,1062.7 1089.2,1063.5 1091.6,1064.9 1094.1,1066.8 1096.6,1068.4 1098.5,1071.2 1100.4,1071.7 1102.9,1073.4 1105.4,1075.6 1107.8,1077.6 1110.3,1079.0 1112.8,1081.1 1114.7,1082.6 1116.6,1084.2 1119.1,1085.0 1121.6,1087.0 1124.0,1088.3 1126.5,1089.8 1129.0,1090.9 1130.9,1091.7 1132.8,1093.5 1135.3,1094.6 1137.7,1095.4 1140.2,1096.6 1142.6,1098.3 1145.1,1100.0 1147.0,1100.3 1148.9,1101.8 1151.4,1101.9 1153.9,1102.7 1156.3,1103.6 1158.8,1104.6 1161.3,1104.6 1163.2,1105.7 1165.1,1106.6 1167.6,1106.4 1170.1,1107.5 1172.5,1108.3 1175.0,1109.2 1177.5,1109.7 1179.4,1109.7 1181.3,1110.6 1183.8,1110.1 1186.3,1110.3 1188.7,1111.4 1191.2,1111.5 1193.7,1111.4 1195.6,1112.1 1197.5,1112.2 1200.0,1112.2 1202.4,1112.0 1204.9,1111.9 1207.3,1111.9 1209.8,1112.4 1211.7,1112.3 1213.6,1112.2 1216.1,1112.0 1218.6,1112.1 1221.0,1111.4 1223.5,1111.3 1226.0,1111.8 1227.9,1110.8 1229.8,1110.6 1232.3,1110.5 1234.8,1109.3 1237.2,1109.7 1239.7,1108.5 1242.2,1108.1 1244.1,1107.5 1246.0,1107.1 1248.5,1106.5 1250.9,1106.3 1253.4,1105.4 1255.8,1105.1 1258.3,1104.3 1260.2,1103.2 1262.1,1102.9 1264.6,1101.8 1267.1,1100.9 1269.5,1100.2 1272.0,1099.3 1274.5,1098.4 1276.4,1097.0 1278.3,1096.8 1280.8,1095.7 1283.3,1095.2 1285.7,1093.7 1288.2,1092.7 1290.7,1091.7 1292.6,1091.0 1294.5,1089.6 1297.0,1088.7 1299.5,1087.4 1301.9,1086.2 1304.4,1084.9 1306.9,1083.6 1308.8,1082.8 1310.7,1081.5 1313.2,1081.0 1315.6,1079.4 1318.1,1077.7 1320.5,1076.8 1323.0,1075.9 1324.9,1074.6 1326.8,1073.6 1329.3,1071.8 1331.8,1071.4 1334.2,1069.8 1336.7,1068.0 1339.2,1067.0 1341.1,1066.4 1343.0,1065.1 1345.5,1063.3 1348.0,1062.2 1350.4,1061.0 1352.9,1060.1 1355.4,1058.3 1357.3,1057.3 1359.2,1056.0 1361.7,1054.7 1364.2,1053.0 1366.6,1051.5 1369.1,1050.0 1371.6,1048.8 1373.6,1048.2 1375.6,1046.8 1378.3,1045.9 1381.0,1044.6 1383.7,1043.2 1386.4,1041.8 1389.1,1041.2 1391.1,1040.0 1393.1,1039.0 1395.6,1038.1 1398.0,1036.6 1400.5,1035.1 1402.9,1033.9 1405.4,1032.7 1407.3,1032.2 1409.2,1030.5 1411.7,1029.3 1414.2,1028.6 1416.6,1027.7 1419.1,1026.6 1421.6,1025.9 1423.5,1025.2 1425.4,1024.3 1427.9,1023.6 1430.4,1023.3 1432.8,1022.6 1435.3,1021.8 1437.8,1020.5 1439.7,1020.4 1441.6,1019.3 1444.1,1018.7 1446.6,1019.1 1449.0,1018.4 1451.5,1017.8 1454.0,1017.5 1455.9,1017.3 1457.8,1016.6 1460.3,1016.3 1462.7,1016.0 1465.2,1015.7 1467.6,1015.2 1470.1,1014.5 1472.3,1015.3 1474.6,1014.3 1476.9,1014.2 1479.3,1014.4 1481.6,1014.1 1484.0,1014.1 1486.3,1014.5 1488.7,1014.1 1491.0,1013.5 1493.6,1013.8 1496.2,1013.7 1498.5,1014.2 1500.9,1013.9 1503.2,1014.1 1505.6,1014.1 1507.9,1014.9 1510.3,1015.1 1512.6,1015.4 1515.2,1015.8 1517.8,1015.7 1520.1,1016.4 1522.4,1016.7 1524.8,1017.8 1527.1,1018.2 1529.5,1018.1 1531.8,1019.1 1534.1,1019.5 1536.7,1020.2 1539.3,1021.1 1541.6,1021.7 1544.0,1022.7 1546.3,1023.5 1548.7,1024.3 1551.0,1025.1 1553.4,1026.5 1555.7,1027.3 1558.3,1028.2 1560.9,1029.0 1563.2,1031.1 1565.6,1031.8 1567.9,1033.0 1570.3,1034.3 1572.6,1035.7 1575.0,1036.4 1577.3,1037.0 1579.9,1039.0 1582.5,1040.4 1584.8,1041.7 1587.1,1043.6 1589.5,1044.5 1591.8,1046.1 1594.2,1047.3 1596.5,1049.0 1598.8,1050.1 1601.4,1052.1 1604.0,1053.6 1606.3,1055.2 1608.7,1056.9 1611.0,1058.0 1613.4,1059.9 1615.7,1061.7 1618.1,1063.1 1620.4,1065.1 1623.0,1066.9 1625.6,1068.4 1627.9,1070.6 1630.2,1072.0 1632.6,1074.0 1634.9,1075.9 1637.3,1077.1 1639.6,1078.9 1641.9,1080.8 1644.5,1082.7 1647.1,1084.3 1649.4,1086.7 1651.8,1088.3 1654.1,1090.1 1656.5,1091.9 1658.8,1093.7 1661.2,1095.1 1663.5,1097.1 1666.1,1098.9 1668.7,1100.8 1671.0,1102.5 1673.4,1104.7 1675.7,1105.6 1678.1,1107.8 1680.4,1109.8 1682.8,1111.3 1685.1,1113.0 1687.7,1115.3 1690.3,1116.7 1692.6,1118.4 1694.9,1120.2 1697.3,1121.6 1699.6,1123.2 1702.0,1125.0 1704.3,1126.8 1706.6,1128.0 1709.2,1130.1 1711.8,1131.6 1714.1,1133.0 1716.5,1134.2 1718.8,1136.4 1721.2,1137.6 1723.5,1139.0 1725.9,1140.3 1728.2,1142.3 1730.8,1143.3 1733.4,1144.7 1735.7,1146.1 1738.1,1147.6 1740.4,1149.0 1742.8,1150.2 1745.1,1151.5 1747.5,1152.8 1749.8,1154.1 1752.4,1155.4 1755.0,1156.7 1757.3,1157.6 1759.6,1158.6 1762.0,1159.6 1764.3,1160.5 1766.7,1161.5 1769.0,1162.5 1771.3,1163.4 1773.9,1164.3 1776.5,1165.2 1778.8,1165.8 1781.2,1166.5 1783.5,1167.1 1785.9,1167.8 1788.2,1168.4 1790.6,1169.1 1792.9,1169.7 1795.7,1170.4 1798.4,1171.1 1801.1,1171.7 1803.8,1172.4 1806.4,1173.0 1809.1,1173.7 1811.7,1174.3 1814.4,1175.0 1817.1,1175.6 1820.0,1176.3"/>
<polyline stroke="#000" stroke-width="6.3" stroke-linejoin="round" points="176.5,1129.7 178.5,1129.1 180.5,1129.3 182.9,1129.4 185.2,1129.2 187.6,1128.8 190.0,1128.0 192.7,1127.3 195.3,1126.3 198.0,1125.1 200.5,1123.7 203.0,1122.5 205.6,1120.5 208.1,1118.6 210.6,1116.6 213.3,1115.2 216.0,1113.2 218.8,1111.6 221.5,1110.0 224.2,1107.1 226.9,1105.9 229.6,1103.3 232.3,1101.5 235.0,1099.3 237.7,1098.2 240.4,1096.3 243.1,1094.4 245.9,1092.1 248.6,1090.0 251.3,1088.6 254.0,1086.4 256.7,1083.8 259.4,1081.6 262.1,1078.7 264.8,1077.1 267.1,1075.3 269.3,1074.5 271.6,1072.4 273.8,1070.9 276.1,1069.3 278.4,1068.2 280.6,1066.6 282.9,1064.6 285.1,1063.0 287.4,1061.6 289.6,1060.4 291.9,1059.3 294.1,1057.6 296.4,1056.8 298.7,1056.3 300.9,1055.4 303.2,1054.9 305.4,1053.8 307.7,1052.9 310.0,1051.8 312.2,1050.0 314.5,1050.0 316.7,1048.7 319.0,1048.4 321.3,1046.1 323.6,1044.1 325.9,1042.1 328.2,1040.2 330.5,1036.9 332.8,1034.4 335.1,1032.9 337.4,1030.0 340.0,1025.7 342.6,1021.8 345.2,1017.9 347.8,1014.9 350.5,1009.5 353.1,1004.9 355.3,1000.7 357.5,996.1 359.7,993.1 362.3,987.1 364.9,980.4 367.5,974.2 370.2,968.0 371.5,955.9 374.1,949.9 376.7,943.1 379.3,931.0 380.7,922.0 382.6,927.3 384.6,933.9 387.9,943.6 391.1,953.2 391.8,958.9 393.8,961.0 395.7,963.1 397.7,965.3 399.6,961.6 401.5,958.3 402.6,974.7 404.7,988.7 406.9,1005.4 408.9,1018.3 410.8,1031.7 413.4,1049.9 417.0,1079.3 419.5,1088.9 422.0,1099.2 425.0,1108.7 428.0,1119.2 430.4,1125.8 432.9,1132.8 435.3,1139.2 438.0,1145.0 440.8,1150.1 443.5,1155.4 445.9,1158.2 448.2,1161.1 450.6,1163.9 453.0,1166.7 455.3,1167.8 457.7,1169.0 460.0,1170.1 462.3,1171.2 464.7,1172.4 467.0,1173.5 469.6,1173.9 472.1,1174.3 474.7,1174.7 477.2,1175.1 479.8,1175.4 482.3,1175.8 484.9,1176.2 487.4,1176.6 490.0,1177.0 492.4,1177.2 494.9,1177.3 497.3,1177.5 499.7,1177.7 502.1,1177.8 504.6,1178.0 507.0,1178.2 509.4,1178.3 511.9,1178.5 514.3,1178.6 516.7,1178.8 519.1,1179.0 521.6,1179.1 524.0,1179.3"/>
<polyline stroke="#000" stroke-width="6.5" points="401.5,957.5 401.5,1029.3"/>
</g>
<text x="149" y="1210.2" font-size="84" text-anchor="end" fill="#000" >0</text>
<text x="149" y="990.0" font-size="84" text-anchor="end" fill="#000" >1</text>
<text x="149" y="770.3" font-size="84" text-anchor="end" fill="#000" >2</text>
<text x="149" y="550.6" font-size="84" text-anchor="end" fill="#000" >3</text>
<text x="149" y="330.9" font-size="84" text-anchor="end" fill="#000" >4</text>
<text x="147.5" y="113.5" font-size="84" text-anchor="end" fill="#000" >5</text>
<text x="179" y="1276.5" font-size="84" text-anchor="middle" fill="#000" >0</text>
<text x="587" y="1276.5" font-size="84" text-anchor="middle" fill="#000" >25</text>
<text x="998.6" y="1276.5" font-size="84" text-anchor="middle" fill="#000" >50</text>
<text x="1404.8" y="1276.5" font-size="84" text-anchor="middle" fill="#000" >75</text>
<text x="1860" y="1276.5" font-size="84" text-anchor="end" fill="#000" >100</text>
<text transform="translate(999.5,1340.8) scale(0.973,1)" font-size="67.5" text-anchor="middle">Axial Position (mm)</text>
<text transform="translate(68.5,668) rotate(-90) scale(0.985,1)" font-size="67" text-anchor="middle">Electromagnetic Power Loss Density (10<tspan font-size="45" dy="-19.5">7</tspan><tspan dy="19.5"> W/m</tspan><tspan font-size="45" dy="-19.5">3</tspan><tspan dy="19.5">)</tspan></text>
<text x="242" y="1162" font-size="73" text-anchor="start" fill="#000" >25mm</text>
<text x="364" y="218" font-size="73" text-anchor="start" fill="#802aa5" >50mm</text>
<text x="649" y="523.3" font-size="72.5" text-anchor="start" fill="#009900" >100mm</text>
<text x="1046.7" y="903.2" font-size="72.5" text-anchor="start" fill="#1a1aff" >150mm</text>
<text x="1381" y="991.7" font-size="73" text-anchor="start" fill="#ff3333" >200mm</text>
</svg></body></html>
